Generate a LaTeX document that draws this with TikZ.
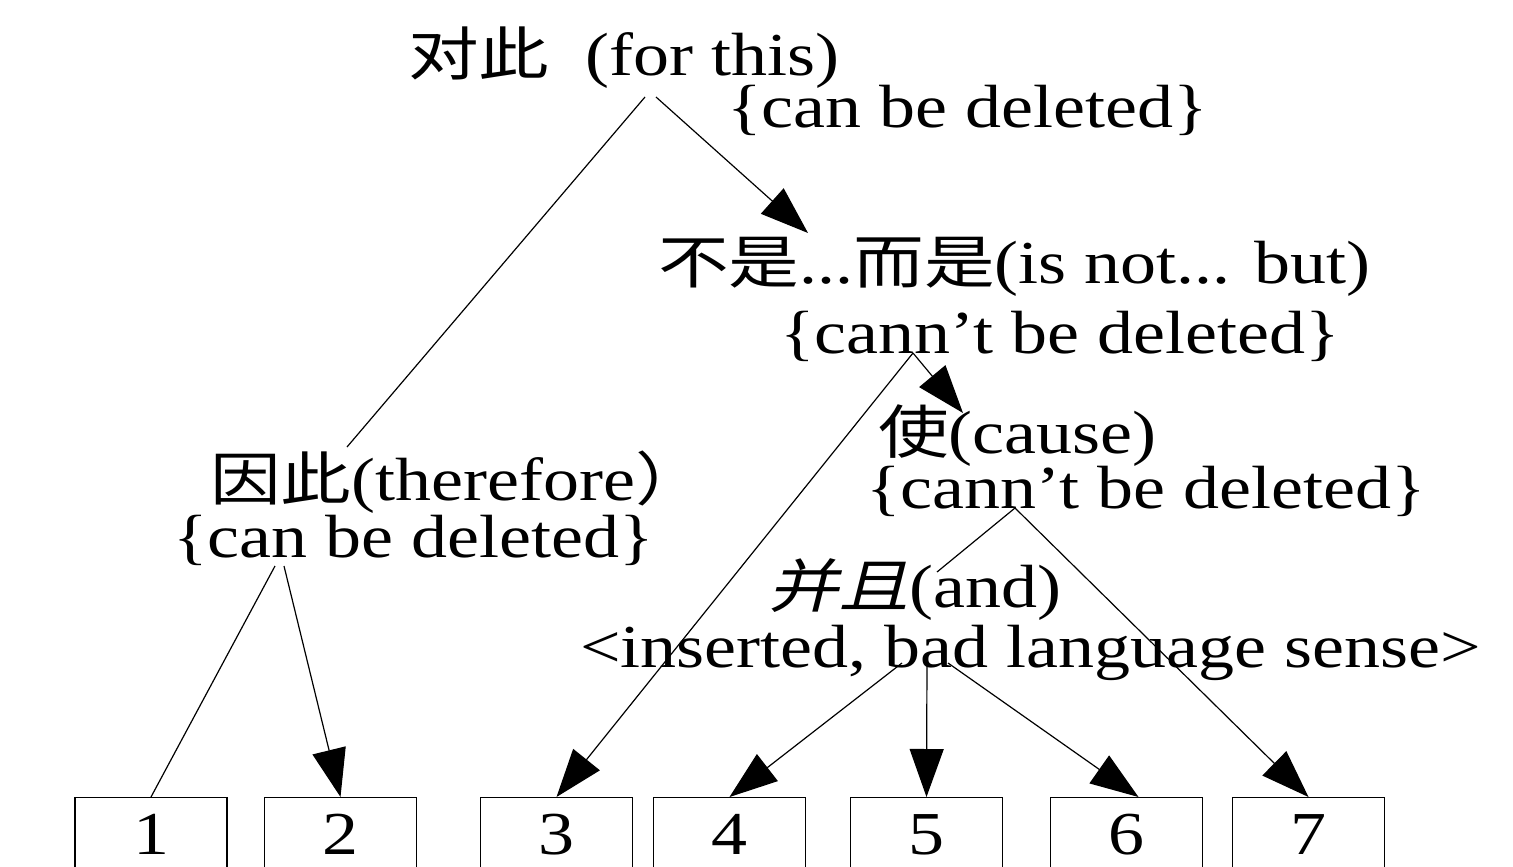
\documentclass[tikz,border=0pt]{standalone}
\usepackage{fontspec}
\setmainfont{Liberation Serif}[FakeStretch=1.18]
\newfontfamily\cjkf{Noto Sans CJK SC}[FakeStretch=1.22,Scale=0.95]
\newfontfamily\cjkif{Noto Sans CJK SC}[FakeStretch=1.22,Scale=0.95,FakeSlant=0.25]
\newcommand\zh[1]{{\cjkf #1}}
\newcommand\zhi[1]{{\cjkif #1}}
\usetikzlibrary{arrows.meta}
\begin{document}
\begin{tikzpicture}[x=1pt,y=-1pt,
  lbl/.style={anchor=base west,inner sep=0pt,font=\fontsize{61pt}{63pt}\selectfont},
  leaf/.style={draw,line width=1.3pt,minimum width=152pt,minimum height=80pt,anchor=north,inner sep=0pt,font=\fontsize{61pt}{63pt}\selectfont},
  conn/.style={line width=1.2pt},
  arr/.style={conn,-{Triangle[length=48pt,width=34pt]}}]
\useasboundingbox (0,0) rectangle (1513,867);
\fill[white] (0,0) rectangle (1513,867);
\clip (0,0) rectangle (1513,867);

% text nodes
\node[lbl] (n1)  at (408,75)  {\zh{对此}\ \ (for this)};
\node[lbl] (n1d) at (727,127) {\{can be deleted\}};
\node[lbl] (n2)  at (658,283) {\zh{不是}...\zh{而是}(is not... but)};
\node[lbl] (n2d) at (780,353) {\{cann’t be deleted\}};
\node[lbl] (n3)  at (878,453) {\zh{使}(cause)};
\node[lbl] (n3d) at (866,508) {\{cann’t be deleted\}};
\node[lbl] (n4)  at (210,500) {\zh{因此}(therefore\zh{）}};
\node[lbl] (n4d) at (173,557) {\{can be deleted\}};
\node[lbl] (n5)  at (768,607) {\zhi{并且}(and)};
\node[lbl] (n5d) at (580,667) {<inserted, bad language sense>};

% leaf boxes
\node[leaf] (b1) at (151,797)    {\raisebox{6pt}{1}};
\node[leaf] (b2) at (340.5,797)  {\raisebox{6pt}{2}};
\node[leaf] (b3) at (556.5,797)  {\raisebox{6pt}{3}};
\node[leaf] (b4) at (729.5,797)  {\raisebox{6pt}{4}};
\node[leaf] (b5) at (926.5,797)  {\raisebox{6pt}{5}};
\node[leaf] (b6) at (1126.5,797) {\raisebox{6pt}{6}};
\node[leaf] (b7) at (1308.5,797) {\raisebox{6pt}{7}};

% connector end points
\coordinate (s1a) at (645,97);
\coordinate (s1b) at (656,97);
\coordinate (e4)  at (347,447);
\coordinate (e2)  at (808,233);
\coordinate (s2)  at (913,353);
\coordinate (e3)  at (963,413);
\coordinate (s3)  at (1015,508);
\coordinate (e5)  at (937,572);
\coordinate (s4a) at (275,566);
\coordinate (s4b) at (284,566);
\coordinate (s5a) at (902,663);
\coordinate (s5b) at (927,660);
\coordinate (s5c) at (948,663);

\draw[conn] (s1a) -- (e4);
\draw[arr]  (s1b) -- (e2);
\draw[arr]  (s2) -- (b3.north);
\draw[arr]  (s2) -- (e3);
\draw[conn] (s3) -- (e5);
\draw[arr]  (s3) -- (b7.north);
\draw[arr]  (s5a) -- (b4.north);
\draw[arr]  (s5b) -- (b5.north);
\draw[arr]  (s5c) -- ([xshift=12pt]b6.north);
\draw[conn] (s4a) -- (b1.north);
\draw[arr]  (s4b) -- (b2.north);
\end{tikzpicture}
\end{document}
